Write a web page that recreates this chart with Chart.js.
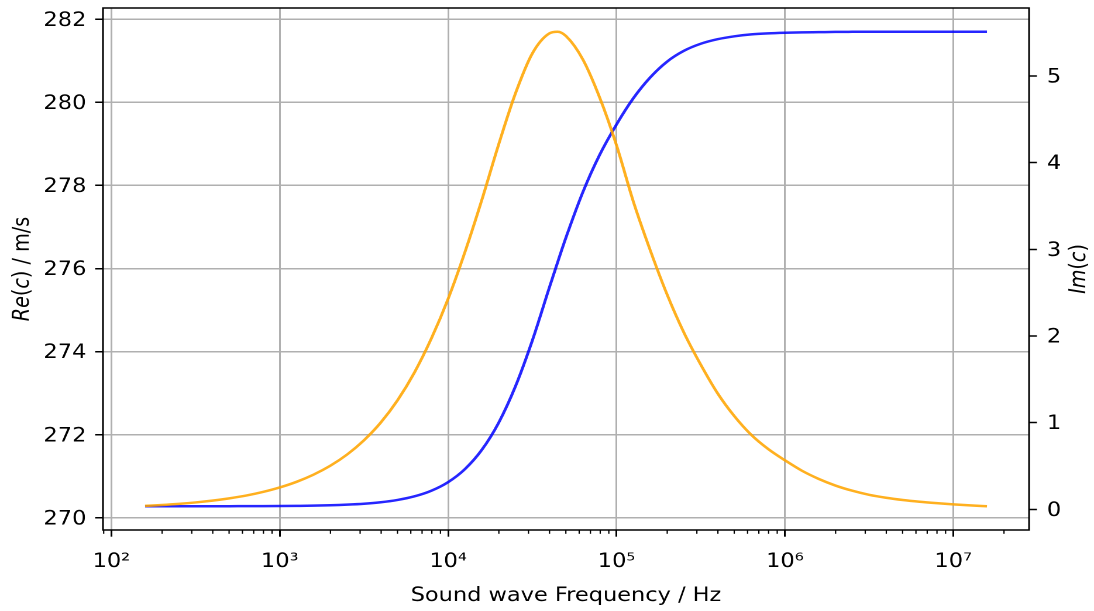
<!DOCTYPE html>
<html>
<head>
<meta charset="utf-8">
<script src="https://cdn.jsdelivr.net/npm/chart.js@4.4.0/dist/chart.umd.min.js"></script>
<style>
  html, body { margin: 0; padding: 0; background: #ffffff; overflow: hidden; }
  #wrap { position: absolute; left: 0; top: 0; width: 935px; height: 611px;
          transform: scaleX(1.17005); transform-origin: 0 0; }
</style>
</head>
<body>
<div id="wrap"><canvas id="chart"></canvas></div>
<script>
// Sound wave frequency (Hz)
const freqHz = [
  158.5, 199.5, 251.2, 316.2, 398.1, 501.2, 631.0, 794.3, 1000,
  1259, 1585, 1995, 2512, 3162, 3981, 5012, 6310, 7943, 10000,
  12589, 15849, 19953, 25119, 31623, 39811, 44668, 50119, 63096, 79433, 100000,
  125893, 158489, 199526, 251189, 316228, 398107, 501187, 630957, 794328, 1000000,
  1258925, 1584893, 1995262, 2511886, 3162278, 3981072, 5011872, 6309573, 7943282, 10000000,
  12589254, 15848932
];
// Re(c) in m/s (left axis)
const reC = [
  270.280, 270.280, 270.280, 270.281, 270.281, 270.282, 270.283, 270.284, 270.286,
  270.290, 270.295, 270.304, 270.319, 270.341, 270.376, 270.432, 270.519, 270.654, 270.862,
  271.176, 271.638, 272.291, 273.170, 274.270, 275.531, 276.15, 276.75, 277.84, 278.74, 279.47,
  280.10, 280.60, 280.98, 281.24, 281.41, 281.52, 281.59, 281.635, 281.66, 281.675,
  281.685, 281.69, 281.695, 281.698, 281.70, 281.70, 281.70, 281.70, 281.70, 281.70,
  281.70, 281.70
];
// Im(c) (right axis)
const imC = [
  0.040, 0.050, 0.063, 0.080, 0.101, 0.127, 0.159, 0.201, 0.253,
  0.318, 0.400, 0.503, 0.633, 0.797, 1.002, 1.26, 1.58, 1.97, 2.43,
  2.97, 3.57, 4.21, 4.80, 5.26, 5.49, 5.51, 5.46, 5.19, 4.75, 4.20,
  3.55, 2.99, 2.48, 2.04, 1.67, 1.34, 1.075, 0.86, 0.697, 0.566,
  0.447, 0.352, 0.275, 0.215, 0.168, 0.134, 0.108, 0.088, 0.072, 0.058,
  0.046, 0.036
];
const xTickValues = [1e2, 1e3, 1e4, 1e5, 1e6, 1e7];
const xTickLabels = ['10²', '10³', '10⁴', '10⁵', '10⁶', '10⁷'];
const reTicks = [270, 272, 274, 276, 278, 280, 282];
const imTicks = [0, 1, 2, 3, 4, 5];
const xTitle = 'Sound wave Frequency / Hz';
// axis titles: [text, italic?] pieces (math-style italics like the original)
const leftTitle = [['Re', true], ['(', false], ['c', true], [') / m/s', false]];
const rightTitle = [['Im', true], ['(', false], ['c', true], [')', false]];

const FAMILY = '"DejaVu Sans", sans-serif';
const FONT = { family: FAMILY, size: 19.2, lineHeight: 1.2 };
const TXT = '#000000';
const GRID = '#b0b0b0';

const frame = {
  id: 'frame',
  afterDraw(chart) {
    const { ctx, chartArea: a } = chart;
    ctx.save();
    ctx.strokeStyle = '#000';
    ctx.lineWidth = 1.5;
    ctx.strokeRect(a.left, a.top, a.right - a.left, a.bottom - a.top);
    ctx.restore();
  }
};
const minorTicks = {
  id: 'minorTicks',
  afterDraw(chart) {
    const s = chart.scales.x, ctx = chart.ctx, b = chart.chartArea.bottom;
    ctx.save();
    ctx.strokeStyle = '#000';
    ctx.lineWidth = 1.1;
    for (let e = 1; e <= 7; e++) {
      for (let k = 2; k <= 9; k++) {
        const v = k * Math.pow(10, e);
        if (v < s.min || v > s.max) continue;
        const px = s.getPixelForValue(v);
        ctx.beginPath();
        ctx.moveTo(px, b);
        ctx.lineTo(px, b + 3.8);
        ctx.stroke();
      }
    }
    ctx.restore();
  }
};
function drawRotatedTitle(ctx, pieces, cx, cy) {
  ctx.save();
  ctx.translate(cx, cy);
  ctx.rotate(-Math.PI / 2);
  ctx.fillStyle = TXT;
  ctx.textBaseline = 'middle';
  ctx.textAlign = 'left';
  const fonts = pieces.map(p => (p[1] ? 'italic ' : '') + FONT.size + 'px ' + FAMILY);
  let total = 0;
  const widths = pieces.map((p, i) => { ctx.font = fonts[i]; const w = ctx.measureText(p[0]).width; total += w; return w; });
  let x = -total / 2;
  pieces.forEach((p, i) => { ctx.font = fonts[i]; ctx.fillText(p[0], x, 0); x += widths[i]; });
  ctx.restore();
}
const yTitles = {
  id: 'yTitles',
  afterDraw(chart) {
    const a = chart.chartArea;
    const cy = (a.top + a.bottom) / 2;
    drawRotatedTitle(chart.ctx, leftTitle, 19.5, cy);
    drawRotatedTitle(chart.ctx, rightTitle, 922.5, cy);
  }
};
const noPadV = s => { s.paddingTop = 0; s.paddingBottom = 0; };

new Chart(document.getElementById('chart'), {
  type: 'line',
  data: {
    datasets: [
      {
        label: 'Im(c)',
        data: freqHz.map((f, i) => ({ x: f, y: imC[i] })),
        yAxisID: 'y2',
        borderColor: 'rgba(255,165,0,0.88)',
        borderWidth: 2.5,
        pointRadius: 0,
        cubicInterpolationMode: 'monotone',
        fill: false
      },
      {
        label: 'Re(c)',
        data: freqHz.map((f, i) => ({ x: f, y: reC[i] })),
        yAxisID: 'y',
        borderColor: 'rgba(0,0,255,0.85)',
        borderWidth: 2.5,
        pointRadius: 0,
        cubicInterpolationMode: 'monotone',
        fill: false
      }
    ]
  },
  options: {
    responsive: true,
    maintainAspectRatio: false,
    devicePixelRatio: 2,
    animation: false,
    layout: { padding: { top: 8, left: 0, right: 0, bottom: 0 } },
    plugins: { legend: { display: false }, tooltip: { enabled: false } },
    scales: {
      x: {
        type: 'logarithmic',
        position: 'bottom',
        min: Math.pow(10, 1.95),
        max: Math.pow(10, 7.45),
        afterBuildTicks: s => { s.ticks = xTickValues.map(v => ({ value: v, major: true })); },
        afterFit: s => { s.height = 81; s.paddingLeft = 0; s.paddingRight = 0; },
        ticks: {
          callback: v => xTickLabels[xTickValues.indexOf(v)],
          font: FONT, color: TXT, padding: 14, maxRotation: 0, autoSkip: false
        },
        grid: { color: GRID, lineWidth: 1.5, tickColor: '#000', tickLength: 6.7, tickWidth: 1.5 },
        border: { display: false },
        title: { display: true, text: xTitle, font: FONT, color: TXT,
                 padding: { top: 0, bottom: 3.5 } }
      },
      y: {
        type: 'linear',
        position: 'left',
        min: 269.709,
        max: 282.271,
        afterBuildTicks: s => { s.ticks = reTicks.map(v => ({ value: v })); },
        afterFit: s => { s.width = 88; noPadV(s); },
        ticks: { font: FONT, color: TXT, padding: 7.5, labelOffset: 1.5 },
        grid: { color: GRID, lineWidth: 1.5, tickColor: '#000', tickLength: 6.7, tickWidth: 1.5 },
        border: { display: false },
        title: { display: false }
      },
      y2: {
        type: 'linear',
        position: 'right',
        min: -0.238,
        max: 5.784,
        afterBuildTicks: s => { s.ticks = imTicks.map(v => ({ value: v })); },
        afterFit: s => { s.width = 55.5; noPadV(s); },
        ticks: { font: FONT, color: TXT, padding: 8.5, labelOffset: 1.5 },
        grid: { drawOnChartArea: false, tickColor: '#000', tickLength: 6.7, tickWidth: 1.5 },
        border: { display: false },
        title: { display: false }
      }
    }
  },
  plugins: [frame, minorTicks, yTitles]
});
</script>
</body>
</html>
